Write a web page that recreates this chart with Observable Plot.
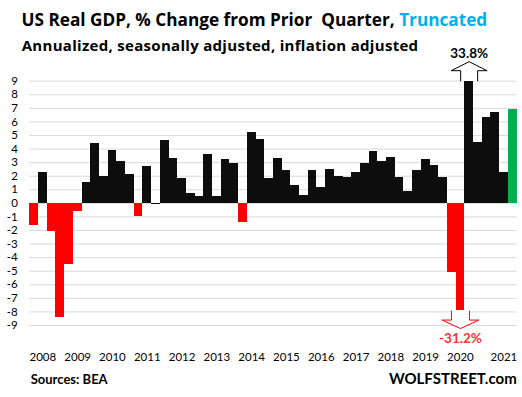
<!DOCTYPE html>
<html><head><meta charset="utf-8">
<script src="https://cdn.jsdelivr.net/npm/d3@7"></script>
<script src="https://cdn.jsdelivr.net/npm/@observablehq/plot@0.6"></script>
<style>
body{margin:0;background:#fff;}
#wrap{position:relative;width:522px;height:397px;overflow:hidden;font-family:Lato,sans-serif;}
#chart{position:absolute;left:0;top:0;}
.t{position:absolute;white-space:nowrap;font-weight:700;line-height:1;color:#000;}
.os{font-family:"Open Sans",sans-serif;}
</style></head><body>
<div id="wrap">
<div id="chart"></div>
<div class="t os" style="left:21.5px;top:11.2px;font-size:17.2px">US Real GDP, % Change from Prior&nbsp; Quarter, <span style="color:#00b0f0">Truncated</span></div>
<div class="t os" style="left:21.7px;top:37.5px;font-size:15px;letter-spacing:0.3px">Annualized, seasonally adjusted, inflation adjusted</div>
<div class="t" style="left:30.7px;top:372.8px;font-size:13px">Sources: BEA</div>
<div class="t" style="right:5.3px;top:371px;font-size:15px">WOLFSTREET.com</div>
</div>
<script>
// ---- data ----
const years = [2008,2009,2010,2011,2012,2013,2014,2015,2016,2017,2018,2019,2020,2021];
const quarterNames = ["Q1","Q2","Q3","Q4"];
const gdpChange = [
  -1.6, 2.3, -2.1, -8.4,
  -4.5, -0.6, 1.5, 4.4,
   2.0, 3.9, 3.1, 2.1,
  -1.0, 2.7, -0.1, 4.6,
   3.3, 1.8, 0.7, 0.5,
   3.6, 0.5, 3.2, 2.9,
  -1.4, 5.2, 4.7, 1.8,
   3.3, 2.4, 1.3, 0.6,
   2.4, 1.2, 2.5, 2.0,
   1.9, 2.3, 2.9, 3.8,
   3.1, 3.4, 1.9, 0.9,
   2.4, 3.2, 2.8, 1.9,
  -5.1, -31.2, 33.8, 4.5,
   6.3, 6.7, 2.3, 6.9
];
const yTicks = [-9,-8,-7,-6,-5,-4,-3,-2,-1,0,1,2,3,4,5,6,7,8,9];
const axisMin = -9, axisMax = 9;        // values beyond these are truncated
const shownTop = 9, shownBottom = -7.9; // where truncated bars are cut

// ---- build table ----
const data = gdpChange.map((v, i) => ({
  q: years[Math.floor(i / 4)] + quarterNames[i % 4],
  v,
  shown: v > axisMax ? shownTop : v < axisMin ? shownBottom : v,
  i
}));
const last = data.length - 1;
const fillOf = d => d.i === last ? "#00b050" : d.v < -0.3 ? "#ff0000" : "#0d0d0d";
const tickKeys = years.map((y, k) => y + (k === years.length - 1 ? "Q3" : "Q2"));

const upArrow = {draw(ctx){
  ctx.moveTo(-8.5,0); ctx.lineTo(-8.5,-10.5); ctx.lineTo(-18,-10.5);
  ctx.lineTo(0,-19.5); ctx.lineTo(18,-10.5); ctx.lineTo(8.5,-10.5); ctx.lineTo(8.5,0);
}};
const downArrow = {draw(ctx){
  ctx.moveTo(-9,0); ctx.lineTo(-9,9.5); ctx.lineTo(-18.3,9.5);
  ctx.lineTo(0,18); ctx.lineTo(18.3,9.5); ctx.lineTo(9,9.5); ctx.lineTo(9,0);
}};
const over = data.filter(d => d.v > axisMax);
const under = data.filter(d => d.v < axisMin);

const chart = Plot.plot({
  width: 522, height: 397,
  marginLeft: 29.3, marginRight: 5.5, marginTop: 80.7, marginBottom: 72,
  style: {fontFamily: "Lato, sans-serif", fontSize: "11.5px", color: "#000", background: "transparent"},
  x: {domain: data.map(d => d.q), padding: 0, ticks: tickKeys, tickFormat: k => k.slice(0, 4), tickSize: 0, tickPadding: 27, label: null},
  y: {domain: [-9, 9], ticks: yTicks, tickSize: 0, tickPadding: 12, tickFormat: d => String(d), label: null},
  color: {type: "identity"},
  marks: [
    Plot.ruleY(yTicks, {stroke: "#d9d9d9", strokeWidth: 1}),
    Plot.dot(over, {x: "q", y: "shown", symbol: upArrow, r: 5, fill: "white", stroke: "black", strokeWidth: 1}),
    Plot.dot(under, {x: "q", y: "shown", symbol: downArrow, r: 5, fill: "white", stroke: "#ff0000", strokeWidth: 1}),
    Plot.barY(data, {x: "q", y: "shown", fill: fillOf, shapeRendering: "crispEdges"}),
    Plot.text(over, {x: "q", y: "shown", text: d => d.v.toFixed(1) + "%", dy: -28, fontWeight: "bold", fontSize: 13.5, fill: "black"}),
    Plot.text(under, {x: "q", y: "shown", text: d => d.v.toFixed(1) + "%", dy: 28, fontWeight: "bold", fontSize: 13.5, fill: "#f53636"})
  ]
});
document.getElementById("chart").appendChild(chart);
</script>
</body></html>
